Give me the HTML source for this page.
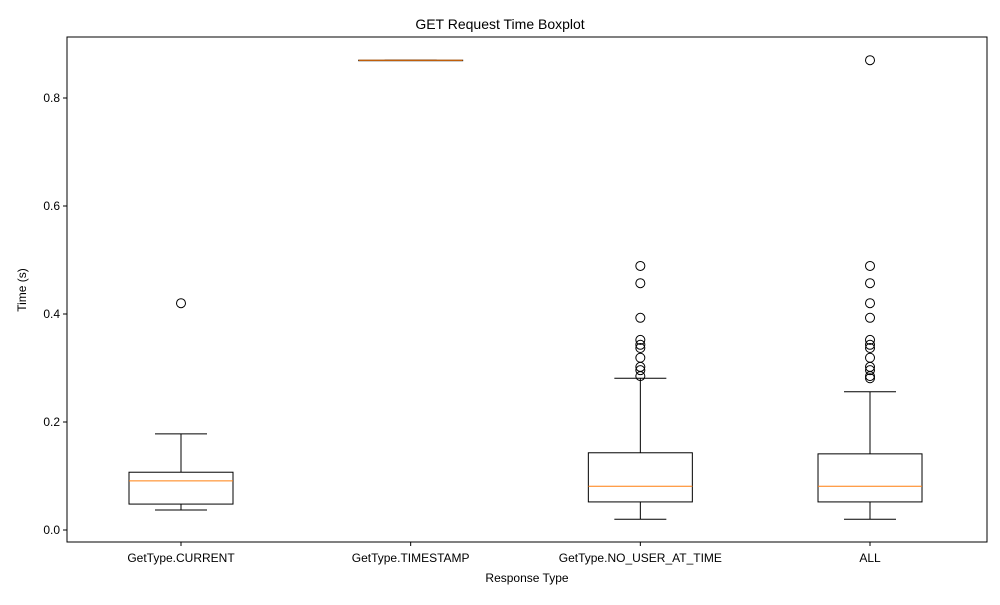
<!DOCTYPE html>
<html><head><meta charset="utf-8"><style>body{margin:0;background:#fff}svg{font-family:"Liberation Sans","DejaVu Sans",sans-serif}</style></head>
<body>
<svg id="chart" width="1000" height="600" xmlns="http://www.w3.org/2000/svg"></svg>
<script>
const categories=["GetType.CURRENT","GetType.TIMESTAMP","GetType.NO_USER_AT_TIME","ALL"];
const whiskerLow=[0.037,0.870,0.020,0.020];
const q1=[0.048,0.870,0.052,0.052];
const medians=[0.091,0.870,0.081,0.081];
const q3=[0.107,0.870,0.143,0.141];
const whiskerHigh=[0.178,0.870,0.281,0.256];
const outliers=[[0.42],[],[0.489,0.457,0.393,0.352,0.343,0.337,0.319,0.302,0.296,0.285],[0.870,0.489,0.457,0.42,0.393,0.352,0.343,0.337,0.319,0.302,0.296,0.285,0.281]];
const yTicks=[0.0,0.2,0.4,0.6,0.8];
const L=67,R=987,T=37,B=542;
const y=v=>530-540*v;
const x=i=>181+i*229.67;
const svg=document.getElementById('chart');
const NS="http://www.w3.org/2000/svg";
function mk(t,a,p){const e=document.createElementNS(NS,t);for(const k in a)e.setAttribute(k,a[k]);(p||svg).appendChild(e);return e;}
let t=mk('text',{x:500,y:29,'text-anchor':'middle','font-size':14});t.textContent="GET Request Time Boxplot";


yTicks.forEach(v=>{
 const g=mk('g',{});
 
 
 mk('line',{x1:L-4,x2:L,y1:y(v),y2:y(v),stroke:'#000'},g);
 const tx=mk('text',{x:L-7,y:y(v)+4,'text-anchor':'end','font-size':12},g);tx.textContent=v.toFixed(1);
});
categories.forEach((c,i)=>{
 const g=mk('g',{});
 
 
 const cx=x(i),hw=52,cw=26;
 mk('line',{x1:cx,x2:cx,y1:y(whiskerLow[i]),y2:y(q1[i]),stroke:'#000'},g);
 mk('line',{x1:cx,x2:cx,y1:y(q3[i]),y2:y(whiskerHigh[i]),stroke:'#000'},g);
 mk('line',{x1:cx-cw,x2:cx+cw,y1:y(whiskerLow[i]),y2:y(whiskerLow[i]),stroke:'#000'},g);
 mk('line',{x1:cx-cw,x2:cx+cw,y1:y(whiskerHigh[i]),y2:y(whiskerHigh[i]),stroke:'#000'},g);
 mk('rect',{x:cx-hw,y:y(q3[i]),width:2*hw,height:Math.max(0.5,y(q1[i])-y(q3[i])),fill:'none',stroke:'#000'},g);
 mk('line',{x1:cx-hw,x2:cx+hw,y1:y(medians[i]),y2:y(medians[i]),stroke:'#ff7f0e'},g);
 outliers[i].forEach(o=>{const ci=mk('circle',{cx:cx,cy:y(o),r:4.5,fill:'none',stroke:'#000'},g);
  
  });
 mk('line',{x1:cx,x2:cx,y1:B,y2:B+4,stroke:'#000'});
 const tx=mk('text',{x:cx,y:B+20,'text-anchor':'middle','font-size':12});tx.textContent=c;
 
 
});
const fr=mk('rect',{x:L,y:T,width:R-L,height:B-T,fill:'none',stroke:'#000'});


t=mk('text',{x:527,y:582,'text-anchor':'middle','font-size':12});t.textContent="Response Type";


t=mk('text',{x:26,y:290,'text-anchor':'middle','font-size':12,transform:'rotate(-90 26 290)'});t.textContent="Time (s)";


</script>
</body></html>
